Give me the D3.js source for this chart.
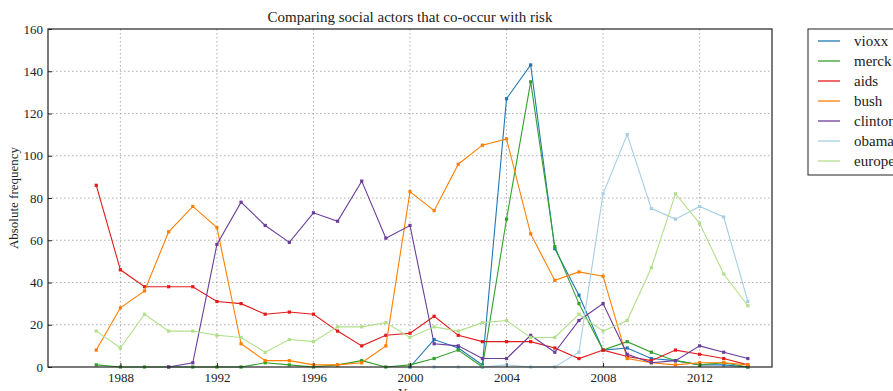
<!DOCTYPE html>
<html>
<head>
<meta charset="utf-8">
<script src="https://cdn.jsdelivr.net/npm/d3@7"></script>
<style>
  body { margin: 0; background: #fff; }
  svg text { font-family: "Liberation Serif", "DejaVu Serif", serif; fill: #222; }
  .grid line { stroke: #999; stroke-dasharray: 1.5,2.5; stroke-width: 0.8; }
</style>
</head>
<body>
<div id="chart"></div>
<script>
// data
var years = d3.range(1987, 2015);
var vioxxYears = d3.range(2000, 2015);
var vioxx = [0, 13, 9, 1, 127, 143, 56, 34, 8, 9, 4, 3, 1, 1, 0];
var merck = [1, 0, 0, 0, 0, 0, 0, 2, 1, 0, 1, 3, 0, 1, 4, 8, 0, 70, 135, 57, 30, 8, 12, 7, 3, 1, 2, 0];
var aids = [86, 46, 38, 38, 38, 31, 30, 25, 26, 25, 17, 10, 15, 16, 24, 15, 12, 12, 12, 9, 4, 8, 5, 3, 8, 6, 4, 1];
var bush = [8, 28, 36, 64, 76, 66, 11, 3, 3, 1, 1, 2, 10, 83, 74, 96, 105, 108, 63, 41, 45, 43, 4, 2, 1, 2, 2, 1];
var clintonYears = d3.range(1990, 2015);
var clinton = [0, 2, 58, 78, 67, 59, 73, 69, 88, 61, 67, 11, 10, 4, 4, 15, 7, 22, 30, 6, 2, 3, 10, 7, 4];
var obamaYears = d3.range(2001, 2015);
var obama = [0, 0, 0, 1, 0, 0, 7, 82, 110, 75, 70, 76, 71, 31];
var europe = [17, 9, 25, 17, 17, 15, 14, 7, 13, 12, 19, 19, 21, 14, 19, 17, 21, 22, 14, 14, 25, 17, 22, 47, 82, 68, 44, 29];

var xTicks = [1988, 1992, 1996, 2000, 2004, 2008, 2012];
var yTicks = [0, 20, 40, 60, 80, 100, 120, 140, 160];

var series = [
  {name: "vioxx", x: vioxxYears, y: vioxx, color: "#1f78b4"},
  {name: "merck", x: years, y: merck, color: "#33a02c"},
  {name: "aids", x: years, y: aids, color: "#e31a1c"},
  {name: "bush", x: years, y: bush, color: "#ff7f00"},
  {name: "clinton", x: clintonYears, y: clinton, color: "#6a3d9a"},
  {name: "obama", x: obamaYears, y: obama, color: "#a6cee3"},
  {name: "europe", x: years, y: europe, color: "#b2df8a"}
];

//Chart space
var svgWidth = 893;
var svgHeight = 391;
var margin = {top: 29, right: 121, bottom: 24, left: 48};
var width = svgWidth - margin.left - margin.right;
var height = svgHeight - margin.top - margin.bottom;

var svg = d3.select("#chart")
  .append("svg")
  .attr("width", svgWidth)
  .attr("height", svgHeight);

var chartGroup = svg.append("g")
  .attr("transform", `translate(${margin.left}, ${margin.top})`);

//Scales
var xScale = d3.scaleLinear().domain([1985, 2015]).range([0, width]);
var yScale = d3.scaleLinear().domain([0, 160]).range([height, 0]);

//Grid
chartGroup.append("g").attr("class", "grid")
  .selectAll("line").data(xTicks).enter().append("line")
  .attr("x1", d => xScale(d)).attr("x2", d => xScale(d))
  .attr("y1", 0).attr("y2", height);
chartGroup.append("g").attr("class", "grid")
  .selectAll("line").data(yTicks.slice(1, -1)).enter().append("line")
  .attr("x1", 0).attr("x2", width)
  .attr("y1", d => yScale(d)).attr("y2", d => yScale(d));

//Lines and markers
var line = d3.line().x(d => xScale(d[0])).y(d => yScale(d[1]));
series.forEach(function(s) {
  var pts = s.x.map((yr, i) => [yr, s.y[i]]);
  chartGroup.append("path")
    .datum(pts)
    .attr("d", line)
    .attr("fill", "none")
    .attr("stroke", s.color)
    .attr("stroke-width", 1.1);
  chartGroup.selectAll(null)
    .data(pts).enter()
    .append("rect")
    .attr("x", d => xScale(d[0]) - 1.6)
    .attr("y", d => yScale(d[1]) - 1.6)
    .attr("width", 3.2)
    .attr("height", 3.2)
    .attr("fill", s.color);
});

//Axes
var bottomAxis = d3.axisBottom(xScale).tickValues(xTicks).tickFormat(d3.format("d")).tickSizeInner(-4).tickSizeOuter(0).tickPadding(6);
var leftAxis = d3.axisLeft(yScale).tickValues(yTicks).tickSizeInner(-4).tickSizeOuter(0).tickPadding(5);

var xg = chartGroup.append("g")
  .attr("transform", `translate(0, ${height})`)
  .call(bottomAxis);
var yg = chartGroup.append("g")
  .call(leftAxis);
[xg, yg].forEach(function(g) {
  g.select(".domain").remove();
  g.selectAll("line").attr("stroke", "#222");
  g.selectAll("text").attr("font-size", 13).style("font-family", "'Liberation Serif', serif").attr("fill", "#222");
});

//Frame
chartGroup.append("rect")
  .attr("width", width).attr("height", height)
  .attr("fill", "none").attr("stroke", "#222").attr("stroke-width", 1.2);

//Title and labels
svg.append("text")
  .attr("x", margin.left + width / 2)
  .attr("y", 22)
  .attr("text-anchor", "middle")
  .attr("font-size", 15)
  .text("Comparing social actors that co-occur with risk");

svg.append("text")
  .attr("transform", "rotate(-90)")
  .attr("x", -(margin.top + height / 2))
  .attr("y", 18)
  .attr("text-anchor", "middle")
  .attr("font-size", 13)
  .text("Absolute frequency");

svg.append("text")
  .attr("x", margin.left + width / 2)
  .attr("y", 397)
  .attr("text-anchor", "middle")
  .attr("font-size", 13)
  .text("Year");

//Legend
var legend = svg.append("g").attr("transform", "translate(808, 29)");
legend.append("rect")
  .attr("width", 110).attr("height", 146)
  .attr("fill", "#fff").attr("stroke", "#222").attr("stroke-width", 1);
var items = legend.selectAll("g.item")
  .data(series).enter().append("g")
  .attr("transform", (d, i) => `translate(0, ${12 + i * 20})`);
items.append("line")
  .attr("x1", 10).attr("x2", 32)
  .attr("stroke", d => d.color).attr("stroke-width", 1.3);
items.append("text")
  .attr("x", 46).attr("y", 5)
  .attr("font-size", 15)
  .text(d => d.name);
</script>
</body>
</html>
